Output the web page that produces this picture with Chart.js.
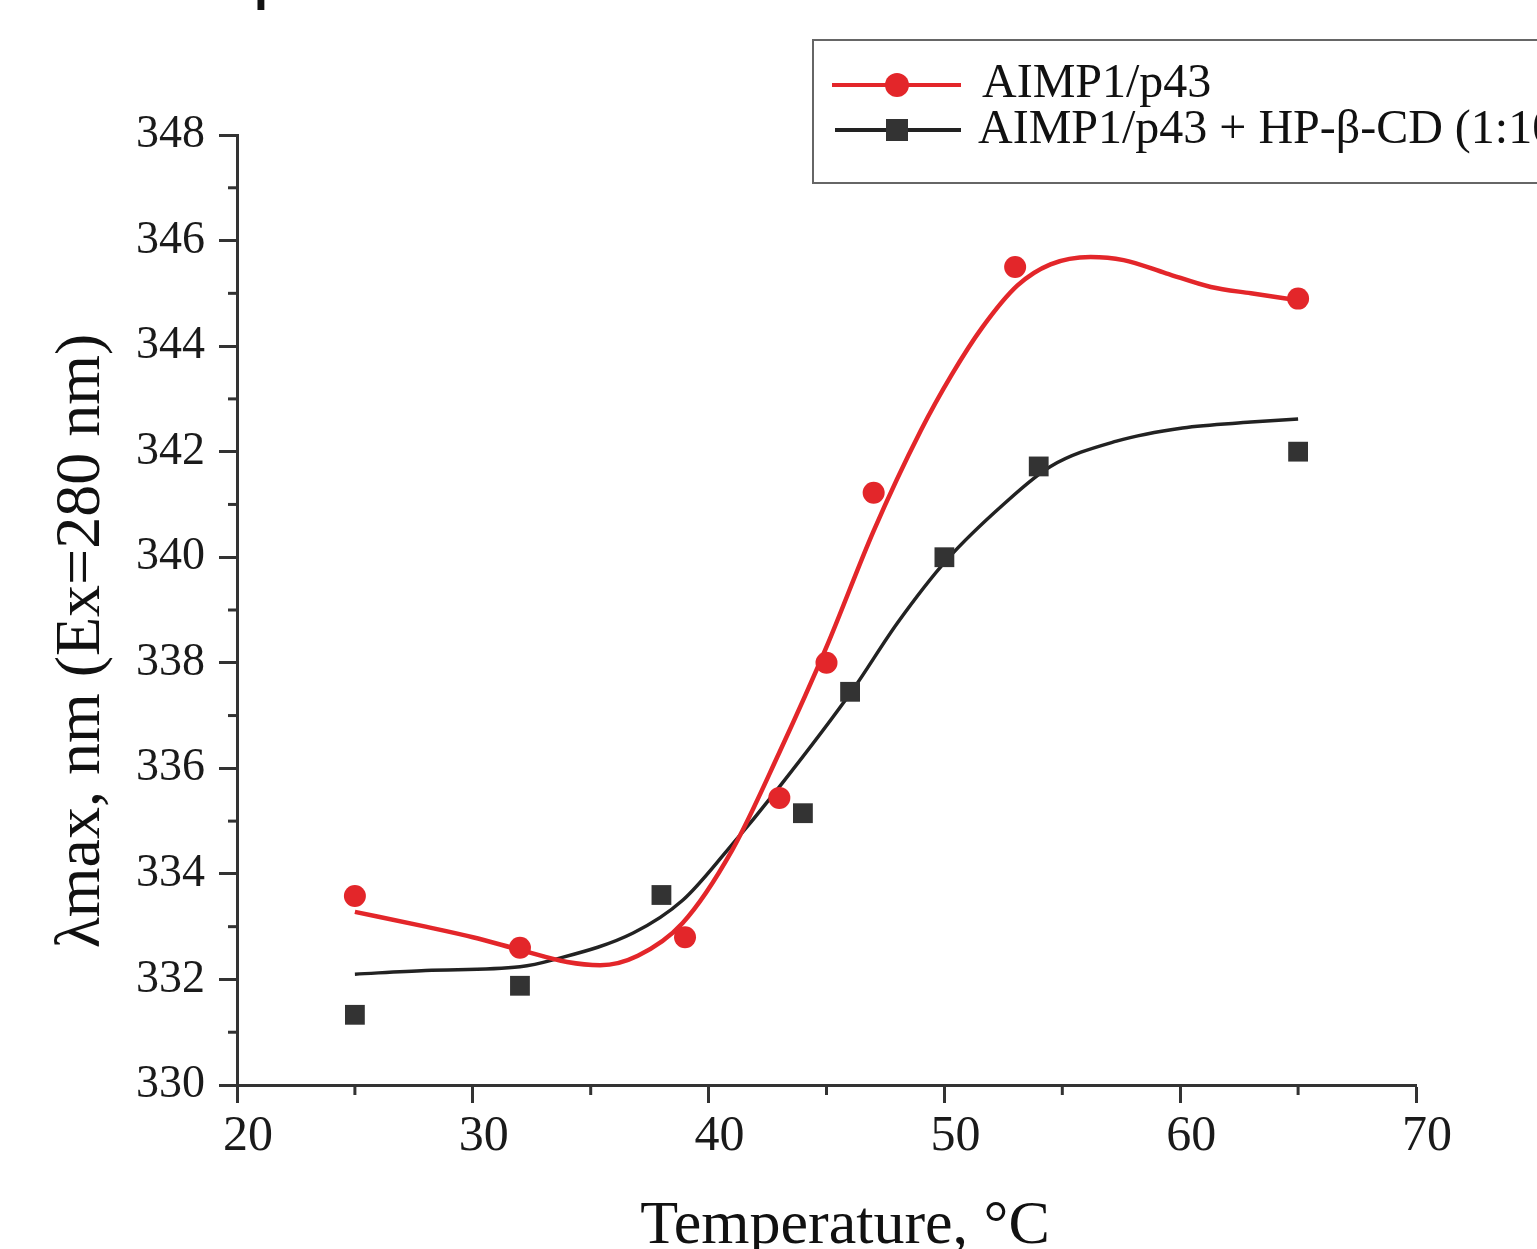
<!DOCTYPE html>
<html>
<head>
<meta charset="utf-8">
<script src="https://cdn.jsdelivr.net/npm/chart.js@4.4.0/dist/chart.umd.min.js"></script>
<style>
  html, body { margin: 0; padding: 0; background: #fff; overflow: hidden; }
  #wrap { position: relative; width: 1537px; height: 1249px; }
</style>
</head>
<body>
<div id="wrap"><canvas id="myChart" width="1537" height="1249"></canvas></div>
<script>
// pontos medidos
const tempP43 = [25, 32, 39, 43, 45, 47, 53, 65];
const lambdaP43 = [333.58, 332.6, 332.8, 335.44, 338.0, 341.22, 345.5, 344.9];
const tempCD = [25, 32, 38, 44, 46, 50, 54, 65];
const lambdaCD = [331.33, 331.88, 333.6, 335.15, 337.45, 340.0, 341.72, 342.0];

// curvas de ajuste
const fitTempP43 = [25, 28, 30, 32, 34, 35.4, 37, 38.9, 41, 43, 45, 47, 49, 50.3, 51.6, 53.1, 54.5, 56.2, 57.6, 59.4, 61.3, 63, 65];
const fitP43 = [333.28, 333.0, 332.8, 332.56, 332.33, 332.27, 332.45, 333.07, 334.45, 336.3, 338.3, 340.5, 342.4, 343.45, 344.35, 345.15, 345.55, 345.69, 345.63, 345.38, 345.12, 345.0, 344.87];
const fitTempCD = [25, 28, 32, 33.4, 36.8, 38.9, 40.8, 43, 46.1, 48, 50.1, 52.5, 54.5, 57.3, 60.1, 63, 65];
const fitCD = [332.1, 332.17, 332.24, 332.37, 332.88, 333.5, 334.45, 335.65, 337.48, 338.75, 339.95, 341.0, 341.72, 342.2, 342.45, 342.56, 342.62];

// eixos
const minorX = [25, 35, 45, 55, 65];
const minorY = [331, 333, 335, 337, 339, 341, 343, 345, 347];
const seriesNames = ['AIMP1/p43', 'AIMP1/p43 + HP-\u03B2-CD (1:10)'];
const xTitle = 'Temperature, \u00B0C';
const yTitle = '\u03BBmax, nm (Ex=280 nm)';

const RED = '#e3262a';
const DARK = '#333333';
const SERIF = '"Liberation Serif", "Times New Roman", serif';

function pts(xs, ys) { return xs.map((x, i) => ({ x: x, y: ys[i] })); }

// ticks menores, titulos, legenda e fragmento no topo
const extras = {
  id: 'extras',
  afterDraw(chart) {
    const ctx = chart.ctx;
    const sx = chart.scales.x, sy = chart.scales.y;
    ctx.save();
    ctx.strokeStyle = DARK;
    ctx.lineWidth = 3;
    minorX.forEach(v => {
      const px = sx.getPixelForValue(v);
      ctx.beginPath(); ctx.moveTo(px, sy.bottom); ctx.lineTo(px, sy.bottom + 10); ctx.stroke();
    });
    minorY.forEach(v => {
      const py = sy.getPixelForValue(v);
      ctx.beginPath(); ctx.moveTo(sx.left, py); ctx.lineTo(sx.left - 9, py); ctx.stroke();
    });

    // titulos dos eixos
    ctx.fillStyle = '#111';
    ctx.textAlign = 'center';
    ctx.textBaseline = 'alphabetic';
    ctx.font = '62px ' + SERIF;
    ctx.fillText(xTitle, 845, 1243);
    ctx.save();
    ctx.translate(99, 641);
    ctx.rotate(-Math.PI / 2);
    ctx.font = '64px ' + SERIF;
    ctx.fillText(yTitle, 0, 0);
    ctx.restore();

    // legenda
    ctx.fillStyle = '#fff';
    ctx.fillRect(813, 40, 740, 143);
    ctx.strokeStyle = '#666';
    ctx.lineWidth = 2;
    ctx.strokeRect(813, 40, 740, 143);

    ctx.lineWidth = 4;
    ctx.strokeStyle = RED;
    ctx.beginPath(); ctx.moveTo(832, 85); ctx.lineTo(961, 85); ctx.stroke();
    ctx.fillStyle = RED;
    ctx.beginPath(); ctx.arc(897, 85, 12, 0, Math.PI * 2); ctx.fill();

    ctx.strokeStyle = '#222';
    ctx.beginPath(); ctx.moveTo(835, 130); ctx.lineTo(961, 130); ctx.stroke();
    ctx.fillStyle = DARK;
    ctx.fillRect(886, 119, 22, 22);

    ctx.fillStyle = '#111';
    ctx.font = '48px ' + SERIF;
    ctx.textBaseline = 'middle';
    ctx.textAlign = 'left';
    ctx.fillText(seriesNames[0], 982, 84);
    ctx.fillText(seriesNames[1], 978, 130);

    // pedaço da letra do painel
    ctx.font = 'bold 50px "Liberation Sans", Arial, sans-serif';
    ctx.textBaseline = 'alphabetic';
    ctx.fillText('p', 254, 0);
    ctx.restore();
  }
};

const grafico = document.getElementById('myChart');
new Chart(grafico, {
  type: 'line',
  data: {
    datasets: [
      {
        label: seriesNames[0],
        data: pts(tempP43, lambdaP43),
        showLine: false,
        pointStyle: 'circle',
        pointRadius: 11,
        backgroundColor: RED,
        borderColor: RED,
        borderWidth: 0,
        order: 0
      },
      {
        label: seriesNames[1],
        data: pts(tempCD, lambdaCD),
        showLine: false,
        pointStyle: 'rect',
        pointRadius: 14,
        backgroundColor: DARK,
        borderColor: DARK,
        borderWidth: 0,
        order: 0
      },
      {
        label: 'fit p43',
        data: pts(fitTempP43, fitP43),
        borderColor: RED,
        borderWidth: 4.5,
        pointRadius: 0,
        cubicInterpolationMode: 'monotone',
        fill: false,
        order: 1
      },
      {
        label: 'fit CD',
        data: pts(fitTempCD, fitCD),
        borderColor: '#222',
        borderWidth: 3.5,
        pointRadius: 0,
        cubicInterpolationMode: 'monotone',
        fill: false,
        order: 1
      }
    ]
  },
  options: {
    responsive: false,
    animation: false,
    layout: { padding: { top: 135, right: 121, bottom: 0, left: 0 } },
    plugins: { legend: { display: false }, tooltip: { enabled: false } },
    scales: {
      x: {
        type: 'linear',
        min: 20,
        max: 70,
        ticks: {
          stepSize: 10,
          color: '#1a1a1a',
          font: { family: SERIF, size: 50 },
          padding: 4,
          labelOffset: 11
        },
        grid: { drawOnChartArea: false, drawTicks: true, tickLength: 18, tickWidth: 3, tickColor: DARK },
        border: { display: true, color: DARK, width: 3 },
        afterFit(s) { s.height = 164; }
      },
      y: {
        min: 330,
        max: 348,
        ticks: {
          stepSize: 2,
          color: '#1a1a1a',
          font: { family: SERIF, size: 46 },
          padding: 14
        },
        grid: { drawOnChartArea: false, drawTicks: true, tickLength: 18, tickWidth: 3, tickColor: DARK },
        border: { display: true, color: DARK, width: 3 },
        afterFit(s) { s.width = 237; }
      }
    }
  },
  plugins: [extras]
});
</script>
</body>
</html>
